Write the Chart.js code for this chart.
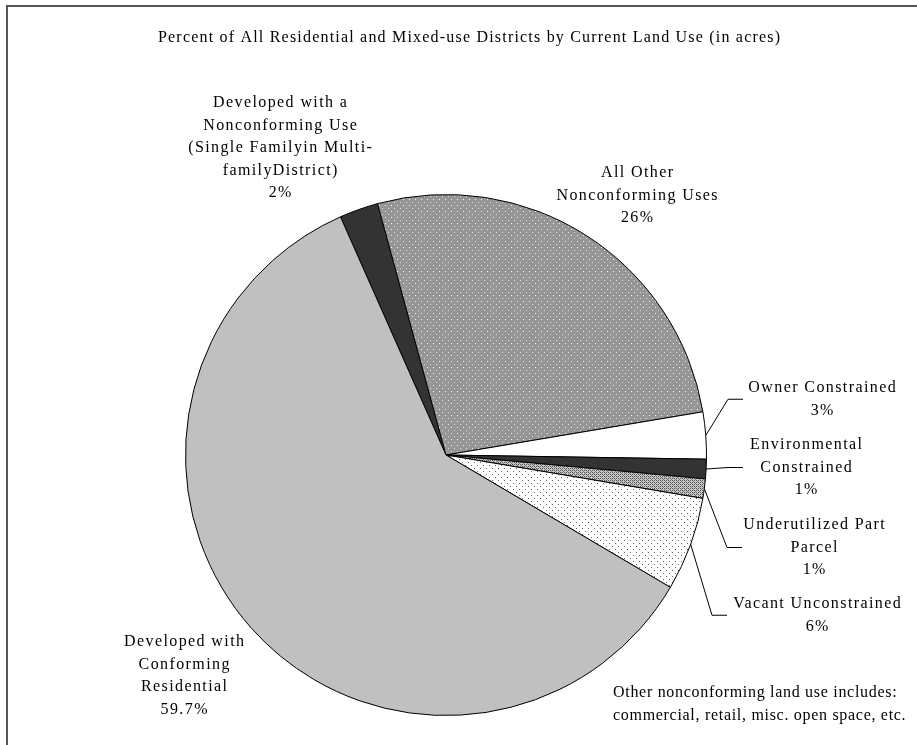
<!DOCTYPE html>
<html>
<head>
<meta charset="utf-8">
<script src="https://cdn.jsdelivr.net/npm/chart.js@4.4.1/dist/chart.umd.min.js"></script>
<style>
  html, body { margin: 0; padding: 0; background: #fff; }
  #wrap { position: relative; width: 917px; height: 745px; }
</style>
</head>
<body>
<div id="wrap"><canvas id="myChart" width="917" height="745"></canvas></div>
<script>
// slice data, clockwise starting at the small dark slice near the top
const categories = [
  'Developed with a Nonconforming Use (Single Family in Multi-family District)',
  'All Other Nonconforming Uses',
  'Owner Constrained',
  'Environmental Constrained',
  'Underutilized Part Parcel',
  'Vacant Unconstrained',
  'Developed with Conforming Residential'
]
const values = [2.4, 26.5, 2.9, 1.2, 1.2, 5.8, 59.7]
const percentLabels = ['2%', '26%', '3%', '1%', '1%', '6%', '59.7%']
const labelLines = [
  ['Developed with a', 'Nonconforming Use', '(Single Familyin Multi-', 'familyDistrict)'],
  ['All Other', 'Nonconforming Uses'],
  ['Owner Constrained'],
  ['Environmental', 'Constrained'],
  ['Underutilized Part', 'Parcel'],
  ['Vacant Unconstrained'],
  ['Developed with', 'Conforming', 'Residential']
]
const titleText = 'Percent of All Residential and Mixed-use Districts by Current Land Use (in acres)'
const noteLines = ['Other nonconforming land use includes:', 'commercial, retail, misc. open space, etc.']

// where each label block sits (center x, first line y) and where its leader ends (null = no leader)
const labelLayout = [
  {x: 280, y: 103, lead: null},
  {x: 637, y: 173, lead: null},
  {x: 822, y: 388, lead: 743},
  {x: 806, y: 445, lead: 743},
  {x: 814, y: 525, lead: 742},
  {x: 817, y: 604, lead: 727},
  {x: 184, y: 642, lead: null}
]
const FONT = '16px "Liberation Serif", "Times New Roman", serif'
const LINE_H = 22.5

function makePattern(w, h, bg, dots) {
  const c = document.createElement('canvas')
  c.width = w
  c.height = h
  const g = c.getContext('2d')
  g.fillStyle = bg
  g.fillRect(0, 0, w, h)
  dots.forEach(d => {
    g.fillStyle = d[2]
    g.fillRect(d[0], d[1], d[3] || 1, d[4] || 1)
  })
  return g.createPattern(c, 'repeat')
}

const ctx0 = document.getElementById('myChart').getContext('2d')
const grayDots = makePattern(6, 6, '#969696', [[1, 1, '#f4f4f4'], [4, 4, '#dcdcdc']])
const whiteDots = makePattern(6, 6, '#ffffff', [[0, 0, '#666666'], [3, 3, '#666666']])
const crossHatch = makePattern(4, 4, '#c8c8c8', [[0, 0, '#555555'], [2, 0, '#555555'], [1, 1, '#777777'], [0, 2, '#555555'], [2, 2, '#555555'], [3, 3, '#777777']])

const fills = ['#333333', grayDots, '#ffffff', '#333333', crossHatch, whiteDots, '#c0c0c0']

// centred text with letter spacing: shift by half the trailing gap
function spacedText(ctx, t, x, y, sp) {
  ctx.letterSpacing = sp + 'px'
  ctx.fillText(t, x + sp / 2, y)
}

const labelPlugin = {
  id: 'labelPlugin',
  afterDraw(chart) {
    const ctx = chart.ctx
    ctx.save()
    // frame
    ctx.strokeStyle = '#555555'
    ctx.lineWidth = 2
    ctx.beginPath()
    ctx.moveTo(7, 745)
    ctx.lineTo(7, 6)
    ctx.lineTo(917, 6)
    ctx.stroke()

    ctx.fillStyle = '#000'
    ctx.font = FONT
    ctx.textAlign = 'center'
    ctx.textBaseline = 'middle'
    spacedText(ctx, titleText, 469, 38, 1.2)

    const meta = chart.getDatasetMeta(0)
    labelLines.forEach((lines, i) => {
      const lay = labelLayout[i]
      const all = lines.concat([percentLabels[i]])
      all.forEach((t, k) => spacedText(ctx, t, lay.x, lay.y + k * LINE_H, 1.4))
      if (lay.lead !== null) {
        const arc = meta.data[i]
        const mid = (arc.startAngle + arc.endAngle) / 2
        const sx = arc.x + Math.cos(mid) * arc.outerRadius
        const sy = arc.y + Math.sin(mid) * arc.outerRadius
        const ey = lay.y + (all.length - 1) * LINE_H / 2
        ctx.strokeStyle = '#000'
        ctx.lineWidth = 1
        ctx.beginPath()
        ctx.moveTo(sx, sy)
        ctx.lineTo(lay.lead - 15, ey)
        ctx.lineTo(lay.lead, ey)
        ctx.stroke()
      }
    })

    ctx.textAlign = 'left'
    ctx.letterSpacing = '0.7px'
    noteLines.forEach((t, k) => ctx.fillText(t, 613, 693 + k * LINE_H))
    ctx.restore()
  }
}

new Chart(ctx0, {
  type: 'pie',
  data: {
    labels: categories,
    datasets: [{
      data: values,
      backgroundColor: fills,
      borderColor: '#000',
      borderWidth: 1
    }]
  },
  options: {
    responsive: false,
    animation: false,
    rotation: -23.9,
    layout: { padding: { left: 185, right: 210, top: 194, bottom: 29 } },
    plugins: {
      legend: { display: false },
      tooltip: { enabled: false }
    }
  },
  plugins: [labelPlugin]
})
</script>
</body>
</html>
